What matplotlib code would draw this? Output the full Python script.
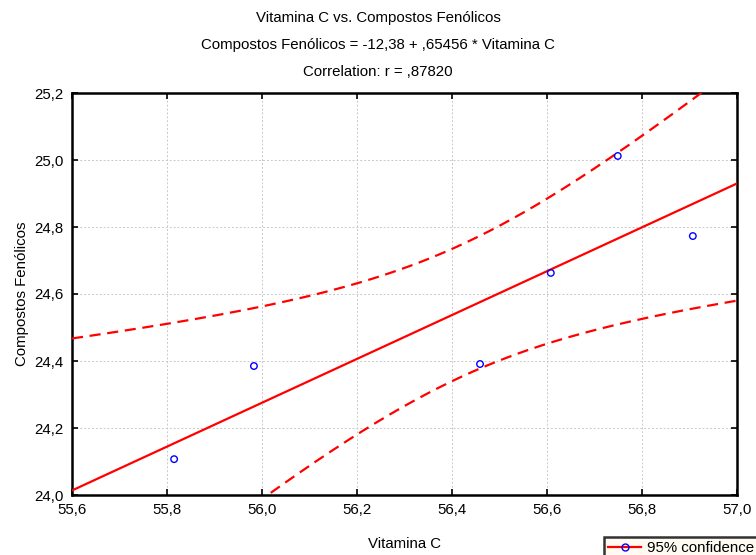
import numpy as np
import matplotlib
matplotlib.use("Agg")
import matplotlib.pyplot as plt
from matplotlib.lines import Line2D

plt.rcParams['font.family'] = ['Liberation Sans', 'DejaVu Sans']

# data
vitamina_c = [55.815, 55.983, 56.459, 56.608, 56.749, 56.907]
compostos = [24.107, 24.385, 24.391, 24.663, 25.012, 24.773]
intercept = -12.38
slope = 0.65456
t_crit = 2.7764  # t(0.975, df=4)
x_ticks = [55.6, 55.8, 56.0, 56.2, 56.4, 56.6, 56.8, 57.0]
y_ticks = [24.0, 24.2, 24.4, 24.6, 24.8, 25.0, 25.2]
title_lines = ["Vitamina C vs. Compostos Fenólicos",
               "Compostos Fenólicos = -12,38 + ,65456 * Vitamina C",
               "Correlation: r = ,87820"]

x = np.array(vitamina_c)
y = np.array(compostos)
n = len(x)
yhat = intercept + slope * x
s = np.sqrt(np.sum((y - yhat) ** 2) / (n - 2))
sxx = np.sum((x - x.mean()) ** 2)
xs = np.linspace(55.6, 57.0, 300)
ys = intercept + slope * xs
half = t_crit * s * np.sqrt(1.0 / n + (xs - x.mean()) ** 2 / sxx)

fig = plt.figure(figsize=(7.56, 5.55), dpi=100)
ax = fig.add_axes([72/756, 1 - 495/555, (737-72)/756, (495-93)/555])

ax.plot(xs, ys, color='#ff0000', lw=1.6, zorder=3)
ax.plot(xs, ys + half, color='#ff0000', lw=1.6, ls=(0, (5, 3)), zorder=3)
ax.plot(xs, ys - half, color='#ff0000', lw=1.6, ls=(0, (5, 3)), zorder=3)
ax.scatter(x, y, s=22, facecolors='none', edgecolors='#0000ff', linewidths=1.0, zorder=4)

ax.set_xlim(55.6, 57.0)
ax.set_ylim(24.0, 25.2)
ax.set_xticks(x_ticks)
ax.set_yticks(y_ticks)
ax.set_xticklabels([f"{v:.1f}".replace('.', ',') for v in x_ticks], fontsize=10.8)
ax.set_yticklabels([f"{v:.1f}".replace('.', ',') for v in y_ticks], fontsize=10.8)
ax.tick_params(direction='in', length=4, width=1.2, top=True, right=True, pad=6)
ax.grid(True, color='#c8c8c8', ls=(0, (2, 2)), lw=0.7)
for sp in ax.spines.values():
    sp.set_linewidth(1.8)

ax.set_xlabel("Vitamina C", fontsize=10.8, labelpad=14)
ax.set_ylabel("Compostos Fenólicos", fontsize=10.8, labelpad=4)

for i, t in enumerate(title_lines):
    fig.text(0.5, 1 - (18 + 27 * i) / 555, t, ha='center', va='center', fontsize=10.8)

handle = Line2D([0], [0], color='#ff0000', lw=1.6, marker='o', markersize=5,
                markerfacecolor='none', markeredgecolor='#0000ff')
leg = fig.legend([handle], ["95% confidence"], loc='upper left',
                 bbox_to_anchor=(596/756, 1 - 529/555), fontsize=10.8,
                 frameon=True, fancybox=False, handlelength=2.2, borderpad=0.3,
                 handletextpad=0.4)
leg.get_frame().set_edgecolor('black')
leg.get_frame().set_linewidth(1.8)
leg.get_frame().set_facecolor('#fffbef')

fig.savefig("out.png", dpi=100)
